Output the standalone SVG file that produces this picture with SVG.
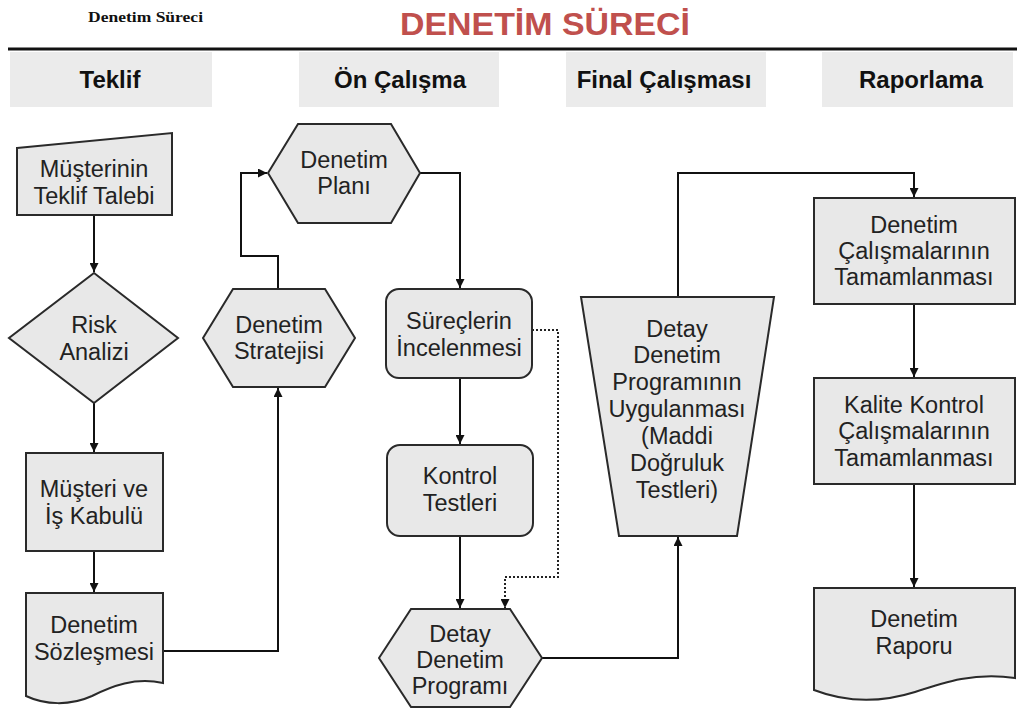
<svg xmlns="http://www.w3.org/2000/svg" width="1017" height="709" viewBox="0 0 1017 709">
<defs>
<marker id="ah" viewBox="0 0 10 10" refX="10" refY="5" markerWidth="9" markerHeight="9" markerUnits="userSpaceOnUse" orient="auto">
<path d="M0,0 L10,5 L0,10 Z" fill="#111"/>
</marker>
</defs>
<style>
.node{fill:#e8e8e8;stroke:#2a2a2a;stroke-width:2}
.lbl{font-family:"Liberation Sans",Arial,sans-serif;font-size:23.5px;fill:#222;text-anchor:middle}
.hdr{fill:#ebebeb}
.hdrt{font-family:"Liberation Sans",Arial,sans-serif;font-size:24px;font-weight:bold;fill:#111;text-anchor:middle}
.con{fill:none;stroke:#111;stroke-width:2}
.dot{fill:none;stroke:#222;stroke-width:2;stroke-dasharray:2 2}
</style>
<rect width="1017" height="709" fill="#ffffff"/>
<g id="header">
<text x="88" y="22" font-family="'Liberation Serif','Times New Roman',serif" font-size="15" font-weight="bold" fill="#111" textLength="115" lengthAdjust="spacingAndGlyphs">Denetim Süreci</text>
<text x="545" y="35" font-family="'Liberation Sans',Arial,sans-serif" font-size="31" font-weight="bold" fill="#c0504d" text-anchor="middle" textLength="290" lengthAdjust="spacingAndGlyphs">DENETİM SÜRECİ</text>
<line x1="8" y1="49" x2="1017" y2="49" stroke="#111" stroke-width="3"/>
<rect class="hdr" x="10" y="52" width="202" height="55"/>
<rect class="hdr" x="299" y="52" width="200" height="55"/>
<rect class="hdr" x="566" y="52" width="200" height="55"/>
<rect class="hdr" x="822" y="52" width="191" height="55"/>
<text class="hdrt" x="110" y="88">Teklif</text>
<text class="hdrt" x="400" y="88">Ön Çalışma</text>
<text class="hdrt" x="664" y="88">Final Çalışması</text>
<text class="hdrt" x="921" y="88">Raporlama</text>
</g>
<g id="connectors">
<line class="con" x1="94" y1="215" x2="94" y2="272" marker-end="url(#ah)"/>
<line class="con" x1="94" y1="403" x2="94" y2="452" marker-end="url(#ah)"/>
<line class="con" x1="94" y1="551" x2="94" y2="592" marker-end="url(#ah)"/>
<polyline class="con" points="163,651 278,651 278,388" marker-end="url(#ah)"/>
<polyline class="con" points="278,289 278,256 241,256 241,173 267,173" marker-end="url(#ah)"/>
<polyline class="con" points="420,173 460,173 460,288" marker-end="url(#ah)"/>
<line class="con" x1="460" y1="378" x2="460" y2="444" marker-end="url(#ah)"/>
<line class="con" x1="460" y1="536" x2="460" y2="608" marker-end="url(#ah)"/>
<polyline class="dot" points="532,330 558,330 558,577 505,577 505,608" marker-end="url(#ah)"/>
<polyline class="con" points="542,658 678,658 678,537" marker-end="url(#ah)"/>
<polyline class="con" points="678,297 678,173 914,173 914,197" marker-end="url(#ah)"/>
<line class="con" x1="914" y1="304" x2="914" y2="377" marker-end="url(#ah)"/>
<line class="con" x1="914" y1="484" x2="914" y2="587" marker-end="url(#ah)"/>
</g>
<g id="n-teklif-talebi">
<polygon class="node" points="17,148 172,133 172,215 17,215"/>
<text class="lbl" x="94" y="177">Müşterinin</text>
<text class="lbl" x="94" y="204">Teklif Talebi</text>
</g>
<g id="n-risk">
<polygon class="node" points="94,273 178,338 94,403 9,338"/>
<text class="lbl" x="94" y="333">Risk</text>
<text class="lbl" x="94" y="360">Analizi</text>
</g>
<g id="n-kabul">
<rect class="node" x="26" y="453" width="137" height="98"/>
<text class="lbl" x="94" y="497">Müşteri ve</text>
<text class="lbl" x="94" y="524">İş Kabulü</text>
</g>
<g id="n-sozlesme">
<path class="node" d="M26,593 H163 V683 C135,677 112,686 92,696 C70,706 45,705 26,696 Z"/>
<text class="lbl" x="94" y="633">Denetim</text>
<text class="lbl" x="94" y="660">Sözleşmesi</text>
</g>
<g id="n-strateji">
<polygon class="node" points="203,338 233,289 325,289 355,338 325,387 233,387"/>
<text class="lbl" x="279" y="333">Denetim</text>
<text class="lbl" x="279" y="359">Stratejisi</text>
</g>
<g id="n-plan">
<polygon class="node" points="268,173 298,124 391,124 420,173 391,223 298,223"/>
<text class="lbl" x="344" y="168">Denetim</text>
<text class="lbl" x="344" y="194">Planı</text>
</g>
<g id="n-surecler">
<rect class="node" x="386" y="289" width="146" height="89" rx="13"/>
<text class="lbl" x="459" y="329">Süreçlerin</text>
<text class="lbl" x="459" y="356">İncelenmesi</text>
</g>
<g id="n-kontrol">
<rect class="node" x="387" y="445" width="146" height="91" rx="13"/>
<text class="lbl" x="460" y="484">Kontrol</text>
<text class="lbl" x="460" y="511">Testleri</text>
</g>
<g id="n-detay-program">
<polygon class="node" points="379,658 411,609 510,609 542,658 510,707 411,707"/>
<text class="lbl" x="460" y="642">Detay</text>
<text class="lbl" x="460" y="668">Denetim</text>
<text class="lbl" x="460" y="694">Programı</text>
</g>
<g id="n-uygulama">
<polygon class="node" points="581,297 774,297 737,536 619,536"/>
<text class="lbl" x="677" y="337">Detay</text>
<text class="lbl" x="677" y="363">Denetim</text>
<text class="lbl" x="677" y="390">Programının</text>
<text class="lbl" x="677" y="417">Uygulanması</text>
<text class="lbl" x="677" y="444">(Maddi</text>
<text class="lbl" x="677" y="471">Doğruluk</text>
<text class="lbl" x="677" y="498">Testleri)</text>
</g>
<g id="n-tamamlanma">
<rect class="node" x="814" y="198" width="201" height="106"/>
<text class="lbl" x="914" y="233">Denetim</text>
<text class="lbl" x="914" y="259">Çalışmalarının</text>
<text class="lbl" x="914" y="285">Tamamlanması</text>
</g>
<g id="n-kalite">
<rect class="node" x="814" y="378" width="201" height="106"/>
<text class="lbl" x="914" y="413">Kalite Kontrol</text>
<text class="lbl" x="914" y="439">Çalışmalarının</text>
<text class="lbl" x="914" y="466">Tamamlanması</text>
</g>
<g id="n-rapor">
<path class="node" d="M814,588 H1015 V678 C975,672 945,682 915,692 C880,703 845,702 814,690 Z"/>
<text class="lbl" x="914" y="627">Denetim</text>
<text class="lbl" x="914" y="654">Raporu</text>
</g>
</svg>
